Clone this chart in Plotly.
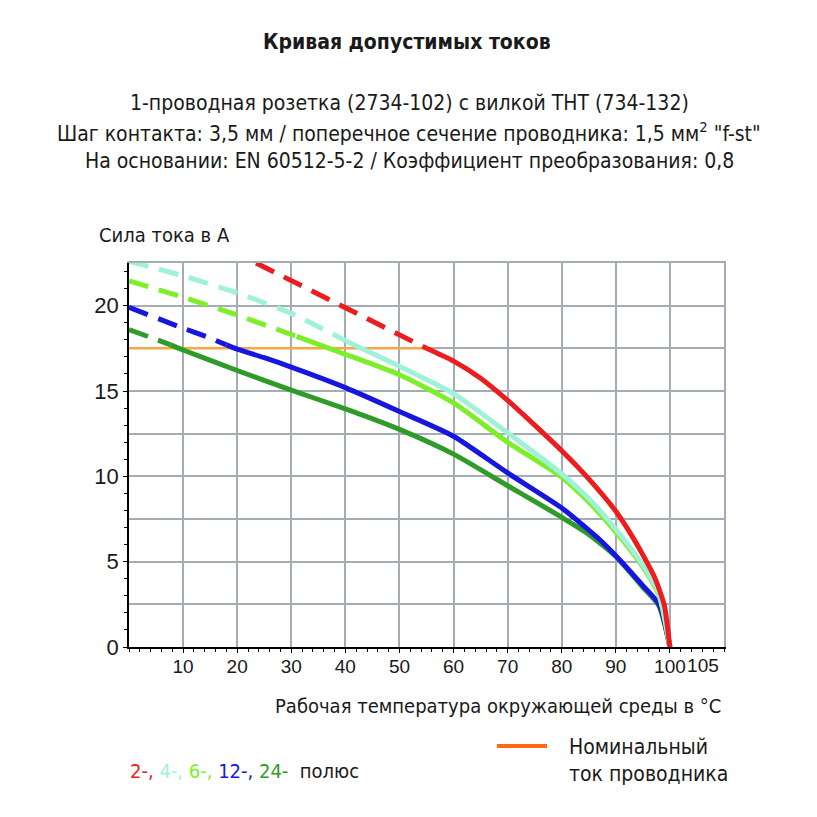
import plotly.graph_objects as go

# ---------------- data ----------------
red_dash_x = [23.5, 55]
red_dash_y = [22.5, 17.5]
red_x = [55, 60, 65, 70, 75, 80, 85, 90, 93, 95, 97, 98, 99, 100]
red_y = [17.5, 16.75, 15.75, 14.45, 13.0, 11.5, 9.85, 7.95, 6.5, 5.4, 4.2, 3.4, 2.4, 0]

cyan_dash_x = [0, 10, 20, 30, 40]
cyan_dash_y = [22.6, 21.75, 20.75, 19.55, 17.95]
cyan_x = [40, 45, 50, 60, 70, 80, 85, 90, 95, 98, 100]
cyan_y = [17.95, 17.2, 16.45, 14.85, 12.55, 10.15, 8.7, 6.9, 4.8, 3.1, 0]

lime_dash_x = [0, 10, 20, 31]
lime_dash_y = [21.45, 20.5, 19.45, 18.2]
lime_x = [31, 37, 40, 50, 60, 70, 80, 85, 90, 95, 98, 100]
lime_y = [18.2, 17.5, 17.15, 15.95, 14.3, 12.0, 9.95, 8.5, 6.75, 4.7, 3.0, 0]

blue_dash_x = [0, 9, 15, 18]
blue_dash_y = [19.9, 18.8, 18.1, 17.7]
blue_x = [18, 20, 25, 30, 40, 50, 60, 70, 80, 85, 87, 90, 95, 98, 100]
blue_y = [17.7, 17.45, 16.95, 16.4, 15.2, 13.8, 12.35, 10.2, 8.15, 6.85, 6.3, 5.35, 3.6, 2.5, 0]

green_dash_x = [0, 4.3, 7.7]
green_dash_y = [18.6, 18.1, 17.7]
green_x = [7.7, 10, 20, 30, 40, 50, 60, 70, 80, 85, 90, 95, 98, 100]
green_y = [17.7, 17.4, 16.2, 15.05, 13.95, 12.75, 11.3, 9.45, 7.6, 6.6, 5.3, 3.5, 2.4, 0]

nominal_x = [0, 55]
nominal_y = [17.5, 17.5]

x_tick_vals = [10, 20, 30, 40, 50, 60, 70, 80, 90, 100]
x_tick_text = ["10", "20", "30", "40", "50", "60", "70", "80", "90", "100"]
x_end_tick_vals = [105]
x_end_tick_text = ["105"]
y_tick_vals = [0, 5, 10, 15, 20]
y_tick_text = ["0", "5", "10", "15", "20"]

# ---------------- style ----------------
FONT = "Liberation Sans Narrow, Arial Narrow, DejaVu Sans Condensed, sans-serif"
TICKFONT = "Liberation Sans, Arial, sans-serif"
C_RED = "#ec1c1f"
C_CYAN = "#9ff2d8"
C_LIME = "#7fee2a"
C_BLUE = "#1616e0"
C_GREEN = "#2f9c29"
C_NOM = "#f5a844"
C_GRID = "#a4adb5"
LW = 5
DASH = "20px,11px"

fig = go.Figure()

# empty traces so the grid subplot (x, y) and the extra tick axis exist
fig.add_trace(go.Scatter(x=[None], y=[None], xaxis="x", yaxis="y",
                         showlegend=False, hoverinfo="skip"))
fig.add_trace(go.Scatter(x=[None], y=[None], xaxis="x3", yaxis="y2",
                         showlegend=False, hoverinfo="skip"))

def add_line(x, y, color, dash=None, width=LW):
    fig.add_trace(go.Scatter(
        x=x, y=y, mode="lines", xaxis="x2", yaxis="y2",
        line=dict(color=color, width=width, dash=dash, shape="spline", smoothing=0.6),
        showlegend=False, hoverinfo="skip"))

add_line(nominal_x, nominal_y, C_NOM, width=2.5)
add_line(green_dash_x, green_dash_y, C_GREEN, DASH)
add_line(green_x, green_y, C_GREEN)
add_line(blue_dash_x, blue_dash_y, C_BLUE, DASH)
add_line(blue_x, blue_y, C_BLUE)
add_line(lime_dash_x, lime_dash_y, C_LIME, DASH)
add_line(lime_x, lime_y, C_LIME)
add_line(cyan_dash_x, cyan_dash_y, C_CYAN, DASH)
add_line(cyan_x, cyan_y, C_CYAN)
add_line(red_dash_x, red_dash_y, C_RED, DASH)
add_line(red_x, red_y, C_RED)

# page has an 8px body margin; figure is 801x801 placed at (8, 8)
OFF = 8
W = H = 801
PL, PR, PT, PB = 129, 724, 263, 647   # plot area in page pixels
L = PL - OFF
T = PT - OFF
R = W - (PR - OFF)
B = H - (PB - OFF)

def px(xp):
    return (xp - PL) / (PR - PL)

def py(yp):
    return (PB - yp) / (PB - PT)

tickfont_x = dict(size=19, family=TICKFONT, color="#1a1a1a")

fig.update_layout(
    width=W, height=H,
    margin=dict(l=L, r=R, t=T, b=B, pad=0),
    paper_bgcolor="white", plot_bgcolor="white",
    font=dict(family=FONT, color="#1a1a1a", size=20),
    showlegend=False,
    xaxis=dict(range=[0, 110], tick0=0, dtick=10, showgrid=True, gridcolor=C_GRID,
               gridwidth=1.5, showticklabels=False, ticks="", zeroline=False,
               showline=True, mirror=True, linecolor=C_GRID, linewidth=1.5),
    yaxis=dict(range=[0, 22.5], tick0=0, dtick=2.5, showgrid=True, gridcolor=C_GRID,
               gridwidth=1.5, showticklabels=False, ticks="", zeroline=False,
               showline=True, mirror=True, linecolor=C_GRID, linewidth=1.5),
    xaxis2=dict(overlaying="x", anchor="y2", range=[0, 110], tickmode="array",
                tickvals=x_tick_vals, ticktext=x_tick_text, showgrid=False, zeroline=False,
                showline=True, linecolor="black", linewidth=1.5, tickangle=0,
                ticks="outside", ticklen=4, tickcolor="black", tickwidth=1,
                ticklabelstandoff=-3, tickfont=tickfont_x,
                minor=dict(tick0=0, dtick=2, ticks="outside", ticklen=3,
                           tickcolor="black", showgrid=False)),
    xaxis3=dict(overlaying="x", anchor="y2", range=[0, 110], tickmode="array",
                tickvals=x_end_tick_vals, ticktext=x_end_tick_text, showgrid=False,
                zeroline=False, showline=False, tickangle=0,
                ticks="outside", ticklen=4, tickcolor="rgba(0,0,0,0)",
                ticklabelstandoff=-3, ticklabelshift=6, tickfont=tickfont_x),
    yaxis2=dict(overlaying="y", anchor="x2", range=[0, 22.5], tickmode="array",
                tickvals=y_tick_vals, ticktext=y_tick_text, showgrid=False, zeroline=False,
                showline=True, linecolor="black", linewidth=1.5,
                ticks="outside", ticklen=4, tickcolor="black", tickwidth=1,
                tickfont=dict(size=22, family=TICKFONT, color="#1a1a1a"),
                minor=dict(tick0=0, dtick=1, ticks="outside", ticklen=3,
                           tickcolor="black", showgrid=False)),
)

ann = []
ann.append(dict(text="<b>Кривая допустимых токов</b>", x=px(407), y=py(42),
                xanchor="center", yanchor="middle", font=dict(size=21)))
subs = ["1-проводная розетка (2734-102) с вилкой THT (734-132)",
        "Шаг контакта: 3,5 мм / поперечное сечение проводника: 1,5 мм<sup>2</sup> \"f-st\"",
        "На основании: EN 60512-5-2 / Коэффициент преобразования: 0,8"]
for s, yy in zip(subs, [103, 132, 161]):
    ann.append(dict(text=s, x=px(409), y=py(yy), xanchor="center", yanchor="middle",
                    font=dict(size=21)))
ann.append(dict(text="Сила тока в А", x=px(97), y=py(235), xanchor="left",
                yanchor="middle", font=dict(size=20)))
ann.append(dict(text="Рабочая температура окружающей среды в °C", x=px(723), y=py(706),
                xanchor="right", yanchor="middle", font=dict(size=20)))
legend_txt = (f"<span style='color:{C_RED}'>2-,</span> "
              f"<span style='color:{C_CYAN}'>4-,</span> "
              f"<span style='color:{C_LIME}'>6-,</span> "
              f"<span style='color:{C_BLUE}'>12-,</span> "
              f"<span style='color:{C_GREEN}'>24-</span>  полюс")
ann.append(dict(text=legend_txt, x=px(128), y=py(771), xanchor="left",
                yanchor="middle", font=dict(size=20)))
ann.append(dict(text="Номинальный<br>ток проводника", x=px(567), y=py(760),
                xanchor="left", yanchor="middle", align="left", font=dict(size=21)))
for a in ann:
    a.update(xref="paper", yref="paper", showarrow=False)
fig.update_layout(annotations=ann)

fig.add_shape(type="line", xref="paper", yref="paper",
              x0=px(497), x1=px(547), y0=py(746), y1=py(746),
              line=dict(color="#ff6a12", width=4))

fig.write_html("out.html")
